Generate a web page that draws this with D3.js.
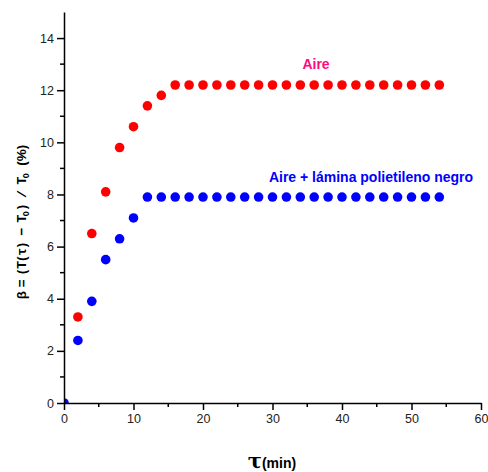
<!DOCTYPE html>
<html>
<head>
<meta charset="utf-8">
<script src="https://cdn.jsdelivr.net/npm/d3@7"></script>
<style>
  body { margin: 0; background: #fff; }
  svg { display: block; font-family: Arial, "Liberation Sans", sans-serif; }
</style>
</head>
<body>
<div id="chart"></div>
<script>
// data
var timeAire = [2, 4, 6, 8, 10, 12, 14, 16, 18, 20, 22, 24, 26, 28, 30, 32, 34, 36, 38, 40, 42, 44, 46, 48, 50, 52, 54];
var betaAire = [3.3, 6.5, 8.1, 9.8, 10.6, 11.4, 11.8, 12.2, 12.2, 12.2, 12.2, 12.2, 12.2, 12.2, 12.2, 12.2, 12.2, 12.2, 12.2, 12.2, 12.2, 12.2, 12.2, 12.2, 12.2, 12.2, 12.2];
var timeLamina = [0, 2, 4, 6, 8, 10, 12, 14, 16, 18, 20, 22, 24, 26, 28, 30, 32, 34, 36, 38, 40, 42, 44, 46, 48, 50, 52, 54];
var betaLamina = [0, 2.4, 3.9, 5.5, 6.3, 7.1, 7.9, 7.9, 7.9, 7.9, 7.9, 7.9, 7.9, 7.9, 7.9, 7.9, 7.9, 7.9, 7.9, 7.9, 7.9, 7.9, 7.9, 7.9, 7.9, 7.9, 7.9, 7.9];
var xTicks = [0, 10, 20, 30, 40, 50, 60];
var yTicks = [0, 2, 4, 6, 8, 10, 12, 14];

var width = 488, height = 472;
var margin = {top: 12, right: 7, bottom: 69, left: 64};

var svg = d3.select("#chart").append("svg")
    .attr("width", width)
    .attr("height", height);

var x = d3.scaleLinear().domain([0, 60]).range([margin.left, width - margin.right]);
var y = d3.scaleLinear().domain([0, 15]).range([height - margin.bottom, margin.top]);

// points are clipped to the plot frame (the dot at 0,0 only shows a corner)
svg.append("clipPath").attr("id", "plotclip")
  .append("rect")
    .attr("x", x(0)).attr("y", y(15))
    .attr("width", x(60) - x(0)).attr("height", y(0) - y(15));

var pts = svg.append("g").attr("clip-path", "url(#plotclip)");

pts.append("g").selectAll("circle")
    .data(timeAire.map(function(t, i) { return [t, betaAire[i]]; }))
    .enter().append("circle")
    .attr("cx", function(d) { return x(d[0]); })
    .attr("cy", function(d) { return y(d[1]); })
    .attr("r", 4.8)
    .attr("fill", "#ff0000");

pts.append("g").selectAll("circle")
    .data(timeLamina.map(function(t, i) { return [t, betaLamina[i]]; }))
    .enter().append("circle")
    .attr("cx", function(d) { return x(d[0]); })
    .attr("cy", function(d) { return y(d[1]); })
    .attr("r", 4.8)
    .attr("fill", "#0000ff");

// minor ticks
var g = svg.append("g");
g.selectAll(".xminor")
    .data(d3.range(5, 60, 10))
    .enter().append("line")
    .attr("x1", function(d) { return x(d); })
    .attr("x2", function(d) { return x(d); })
    .attr("y1", y(0))
    .attr("y2", y(0) + 4)
    .attr("stroke", "#000").attr("stroke-width", 1.5);
g.selectAll(".yminor")
    .data(d3.range(1, 15, 2))
    .enter().append("line")
    .attr("x1", x(0))
    .attr("x2", x(0) - 4)
    .attr("y1", function(d) { return y(d); })
    .attr("y2", function(d) { return y(d); })
    .attr("stroke", "#000").attr("stroke-width", 1.5);

var xAxis = svg.append("g")
    .attr("transform", "translate(0," + y(0) + ")")
    .call(d3.axisBottom(x).tickValues(xTicks).tickSize(7).tickPadding(4).tickSizeOuter(0));
var yAxis = svg.append("g")
    .attr("transform", "translate(" + x(0) + ",0)")
    .call(d3.axisLeft(y).tickValues(yTicks).tickSize(7).tickPadding(3).tickSizeOuter(0));

[xAxis, yAxis].forEach(function(a) {
  a.select(".domain").attr("stroke-width", 1.5);
  a.selectAll(".tick line").attr("stroke-width", 1.5);
  a.selectAll("text")
      .style("font-size", "12.5px")
      .style("font-family", "Arial, 'Liberation Sans', sans-serif")
      .attr("fill", "#222");
});

// series labels
svg.append("text")
    .attr("x", 316).attr("y", 69)
    .attr("text-anchor", "middle")
    .style("font-size", "14px").style("font-weight", "bold")
    .attr("fill", "#ff0a80")
    .text("Aire");

svg.append("text")
    .attr("x", 371).attr("y", 182)
    .attr("text-anchor", "middle")
    .style("font-size", "14px").style("font-weight", "bold")
    .attr("fill", "#0000ff")
    .text("Aire + lámina polietileno negro");

// axis titles
var xt = svg.append("text")
    .attr("x", 272).attr("y", 468)
    .attr("text-anchor", "middle")
    .style("font-weight", "bold");
xt.append("tspan")
    .style("font-family", "'DejaVu Serif', serif")
    .style("font-size", "21px")
    .text("τ");
xt.append("tspan")
    .style("font-size", "14px")
    .text("(min)");

var mono = "'Liberation Mono', 'Courier New', monospace";
var yt = svg.append("text")
    .attr("transform", "translate(26,222) rotate(-90)")
    .attr("text-anchor", "middle")
    .style("font-weight", "bold")
    .style("font-size", "13.5px");
yt.append("tspan").text("β = ");
yt.append("tspan").style("font-family", mono).style("letter-spacing", "-1.5px").text("(T(τ) − T");
yt.append("tspan").attr("dy", 3).style("font-size", "9px").text("0");
yt.append("tspan").attr("dy", -3).style("font-family", mono).style("letter-spacing", "-1.5px").text(") / T");
yt.append("tspan").attr("dy", 3).style("font-size", "9px").text("0");
yt.append("tspan").attr("dy", -3).text("\u00a0\u00a0(%)");
</script>
</body>
</html>
